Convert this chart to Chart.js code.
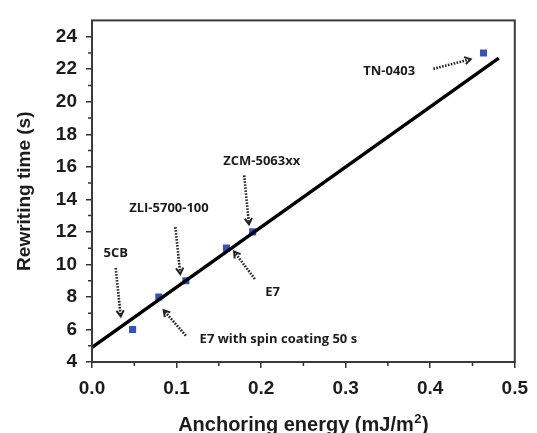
<!DOCTYPE html>
<html>
<head>
<meta charset="utf-8">
<script src="https://cdn.jsdelivr.net/npm/chart.js@4/dist/chart.umd.min.js"></script>
<style>
  html, body { margin: 0; padding: 0; background: #fff; }
  #wrap { width: 537px; height: 433px; }
</style>
</head>
<body>
<div id="wrap"><canvas id="chart" width="537" height="433"></canvas></div>
<script>
// Measured points (anchoring energy mJ/m2, rewriting time s)
const materials = ['5CB', 'E7 with spin coating 50 s', 'ZLI-5700-100', 'E7', 'ZCM-5063xx', 'TN-0403'];
const anchoringEnergy = [0.048, 0.079, 0.111, 0.159, 0.190, 0.463];
const rewritingTime = [6.0, 8.0, 9.0, 11.0, 12.0, 23.0];

// Linear fit line end points
const fitX = [0, 0.481];
const fitY = [4.9, 22.68];

const xTicks = [0, 0.1, 0.2, 0.3, 0.4, 0.5];
const xMinorTicks = [0.05, 0.15, 0.25, 0.35, 0.45];
const yTicks = [4, 6, 8, 10, 12, 14, 16, 18, 20, 22, 24];
const yMinorTicks = [5, 7, 9, 11, 13, 15, 17, 19, 21, 23];

// Annotation label centres and arrow tail/head, in data units
const labelPos = [[0.028, 10.67], [0.2204, 5.38], [0.091, 13.45], [0.2135, 8.26], [0.2007, 16.31], [0.3515, 21.9]];
const arrowFrom = [[0.028, 9.77], [0.111, 5.62], [0.0986, 12.29], [0.1926, 9.10], [0.180, 15.47], [0.4037, 22.02]];
const arrowTo = [[0.034, 6.80], [0.0847, 7.18], [0.1044, 9.41], [0.168, 10.79], [0.1856, 12.47], [0.4478, 22.62]];

const ink = '#1c1c1c';
const fontFamily = '"Liberation Sans", Arial, sans-serif';

const framePlugin = {
    id: 'frame',
    afterDraw(chart) {
        const { ctx, chartArea: a, scales: { x, y } } = chart;
        ctx.save();
        // minor ticks (shorter, outside)
        ctx.strokeStyle = '#333';
        ctx.lineWidth = 1.5;
        ctx.beginPath();
        xMinorTicks.forEach(v => {
            const px = x.getPixelForValue(v);
            ctx.moveTo(px, a.bottom);
            ctx.lineTo(px, a.bottom + 4);
        });
        yMinorTicks.forEach(v => {
            const py = y.getPixelForValue(v);
            ctx.moveTo(a.left, py);
            ctx.lineTo(a.left - 4, py);
        });
        ctx.stroke();
        // box round the plot
        ctx.strokeStyle = '#3a3a3a';
        ctx.lineWidth = 2;
        ctx.strokeRect(a.left, a.top, a.right - a.left, a.bottom - a.top);

        // x axis title with a real superscript
        const main = 'Anchoring energy (mJ/m';
        ctx.fillStyle = ink;
        ctx.textBaseline = 'alphabetic';
        ctx.textAlign = 'left';
        ctx.font = 'bold 20px ' + fontFamily;
        const w1 = ctx.measureText(main).width;
        const w3 = ctx.measureText(')').width;
        ctx.font = 'bold 13px ' + fontFamily;
        const w2 = ctx.measureText('2').width + 1;
        let tx = (a.left + a.right) / 2 - (w1 + w2 + w3) / 2;
        const ty = 431;
        ctx.font = 'bold 20px ' + fontFamily;
        ctx.fillText(main, tx, ty);
        ctx.font = 'bold 13px ' + fontFamily;
        ctx.fillText('2', tx + w1 + 0.5, ty - 8);
        ctx.font = 'bold 20px ' + fontFamily;
        ctx.fillText(')', tx + w1 + w2, ty);
        ctx.restore();
    }
};

function drawArrow(ctx, x0, y0, x1, y1) {
    const ang = Math.atan2(y1 - y0, x1 - x0);
    const head = 7;
    ctx.save();
    ctx.strokeStyle = '#222';
    ctx.lineWidth = 2.6;
    ctx.setLineDash([1.6, 1.4]);
    ctx.beginPath();
    ctx.moveTo(x0, y0);
    ctx.lineTo(x1 - Math.cos(ang) * 2, y1 - Math.sin(ang) * 2);
    ctx.stroke();
    ctx.setLineDash([]);
    ctx.lineWidth = 2;
    ctx.beginPath();
    ctx.moveTo(x1 - head * Math.cos(ang - 0.55), y1 - head * Math.sin(ang - 0.55));
    ctx.lineTo(x1, y1);
    ctx.lineTo(x1 - head * Math.cos(ang + 0.55), y1 - head * Math.sin(ang + 0.55));
    ctx.stroke();
    ctx.restore();
}

const labelPlugin = {
    id: 'labels',
    afterDatasetsDraw(chart) {
        const { ctx, scales: { x, y } } = chart;
        ctx.save();
        ctx.font = 'bold 13px "Open Sans", sans-serif';
        ctx.fillStyle = ink;
        ctx.textAlign = 'center';
        ctx.textBaseline = 'middle';
        materials.forEach((name, i) => {
            ctx.fillText(name, x.getPixelForValue(labelPos[i][0]), y.getPixelForValue(labelPos[i][1]));
            drawArrow(ctx,
                x.getPixelForValue(arrowFrom[i][0]), y.getPixelForValue(arrowFrom[i][1]),
                x.getPixelForValue(arrowTo[i][0]), y.getPixelForValue(arrowTo[i][1]));
        });
        ctx.restore();
    }
};

const tickFont = { family: fontFamily, size: 19, weight: 'bold' };

new Chart(document.getElementById('chart'), {
    type: 'scatter',
    data: {
        datasets: [
            {
                label: 'Fit',
                type: 'line',
                data: fitX.map((v, i) => ({ x: v, y: fitY[i] })),
                borderColor: '#000',
                borderWidth: 3.4,
                pointRadius: 0,
                fill: false,
                order: 1
            },
            {
                label: 'Materials',
                data: anchoringEnergy.map((v, i) => ({ x: v, y: rewritingTime[i] })),
                pointStyle: 'rect',
                pointRadius: 5,
                backgroundColor: '#3b50b5',
                borderColor: '#3b50b5',
                borderWidth: 0,
                order: 2
            }
        ]
    },
    options: {
        responsive: false,
        animation: false,
        events: [],
        layout: { padding: { left: 0, right: 14, top: 14, bottom: 0 } },
        plugins: {
            legend: { display: false },
            tooltip: { enabled: false }
        },
        scales: {
            x: {
                type: 'linear',
                min: 0,
                max: 0.5,
                afterBuildTicks: s => { s.ticks = xTicks.map(v => ({ value: v })); },
                afterFit: s => { s.height = 71; },
                grid: { display: true, drawOnChartArea: false, drawTicks: true, tickLength: 6, color: '#333', lineWidth: 1.5 },
                border: { display: false },
                ticks: { color: ink, font: tickFont, padding: 9, maxRotation: 0, callback: v => v.toFixed(1) },
                title: { display: false }
            },
            y: {
                type: 'linear',
                min: 4,
                max: 25,
                afterBuildTicks: s => { s.ticks = yTicks.map(v => ({ value: v })); },
                afterFit: s => { s.width = 92; },
                grid: { display: true, drawOnChartArea: false, drawTicks: true, tickLength: 6, color: '#333', lineWidth: 1.5 },
                border: { display: false },
                ticks: { color: ink, font: tickFont, padding: 9 },
                title: { display: true, text: 'Rewriting time (s)', color: ink, font: { family: fontFamily, size: 19, weight: 'bold' }, padding: { top: 13, bottom: 0 } }
            }
        }
    },
    plugins: [framePlugin, labelPlugin]
});
</script>
</body>
</html>
